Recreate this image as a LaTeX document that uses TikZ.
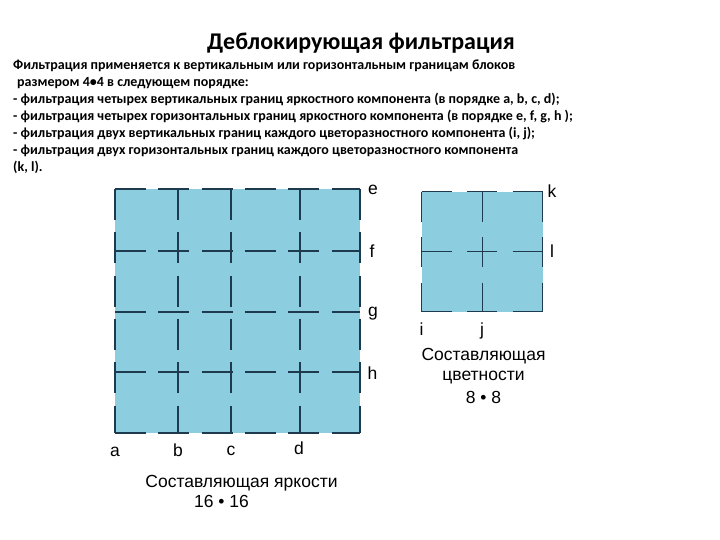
\documentclass[tikz,border=0pt]{standalone}
\usepackage{fontspec}
\setmainfont{Carlito}
\newfontfamily\lblfont{Liberation Sans}
\usetikzlibrary{positioning}
\definecolor{blockfill}{RGB}{140,206,224}
\definecolor{edgeline}{RGB}{30,58,78}

\begin{document}
\begin{tikzpicture}[
    x = 1pt, y = -1pt,
    luma/.style = {draw=edgeline, line width=1.3pt, dash pattern=on 31pt off 12.3pt},
    chroma/.style = {draw=edgeline, line width=1.3pt, dash pattern=on 30pt off 15.5pt},
    lbl/.style = {font=\lblfont\fontsize{17.5}{20}\selectfont, inner sep=0pt, anchor=base},
    desc/.style = {font=\bfseries\fontsize{14}{17}\selectfont, align=left, inner sep=0pt}
  ]
  \useasboundingbox (0,0) rectangle (720,540);

  % Title and description
  \node[font=\bfseries\fontsize{24}{28}\selectfont, inner sep=0pt] (title) at (361,43) {Деблокирующая фильтрация};
  \node[desc, anchor=north west] (text) at (13,60) {Фильтрация применяется к вертикальным или горизонтальным границам блоков\\
    \hspace{4pt}размером 4•4 в следующем порядке:\\
    - фильтрация четырех вертикальных границ яркостного компонента (в порядке a, b, c, d);\\
    - фильтрация четырех горизонтальных границ яркостного компонента (в порядке e, f, g, h );\\
    - фильтрация двух вертикальных границ каждого цветоразностного компонента (i, j);\\
    - фильтрация двух горизонтальных границ каждого цветоразностного компонента\\
    (k, l).};

  % Luma block 16x16
  \fill[blockfill] (115,189) rectangle (360,433);
  \foreach \y in {189,251,312,372,433}
    \draw[luma] (115,\y) -- (360,\y);
  \foreach \x in {115,178,231,300,360}
    \draw[luma] (\x,189) -- (\x,433);

  % Chroma block 8x8
  \fill[blockfill] (421.7,191.7) rectangle (542.7,311.7);
  \foreach \y in {191.7,251.7,311.7}
    \draw[chroma] (421.7,\y) -- (542.7,\y);
  \foreach \x in {421.7,482.7,542.7}
    \draw[chroma] (\x,191.7) -- (\x,311.7);

  % Edge labels
  \node[lbl] (e) at (373,195) {e};
  \node[lbl] (f) at (372,257) {f};
  \node[lbl] (g) at (373,316) {g};
  \node[lbl] (h) at (372.5,379) {h};
  \node[lbl] (a) at (115,456.5) {a};
  \node[lbl] (b) at (178,456) {b};
  \node[lbl] (c) at (231,455) {c};
  \node[lbl] (d) at (299,454.5) {d};
  \node[lbl] (k) at (552,197) {k};
  \node[lbl] (l) at (552,257) {l};
  \node[lbl] (i) at (421.5,335) {i};
  \node[lbl] (j) at (482,335) {j};

  % Captions
  \node[lbl] (lumacap) at (241.5,487) {Составляющая яркости};
  \node[lbl] (lumasize) at (221.5,507) {16 • 16};
  \node[lbl] (chromacap) at (483.5,360) {Составляющая};
  \node[lbl] (chromacap2) at (483.5,380) {цветности};
  \node[lbl] (chromasize) at (483.5,403) {8 • 8};

\end{tikzpicture}
\end{document}
